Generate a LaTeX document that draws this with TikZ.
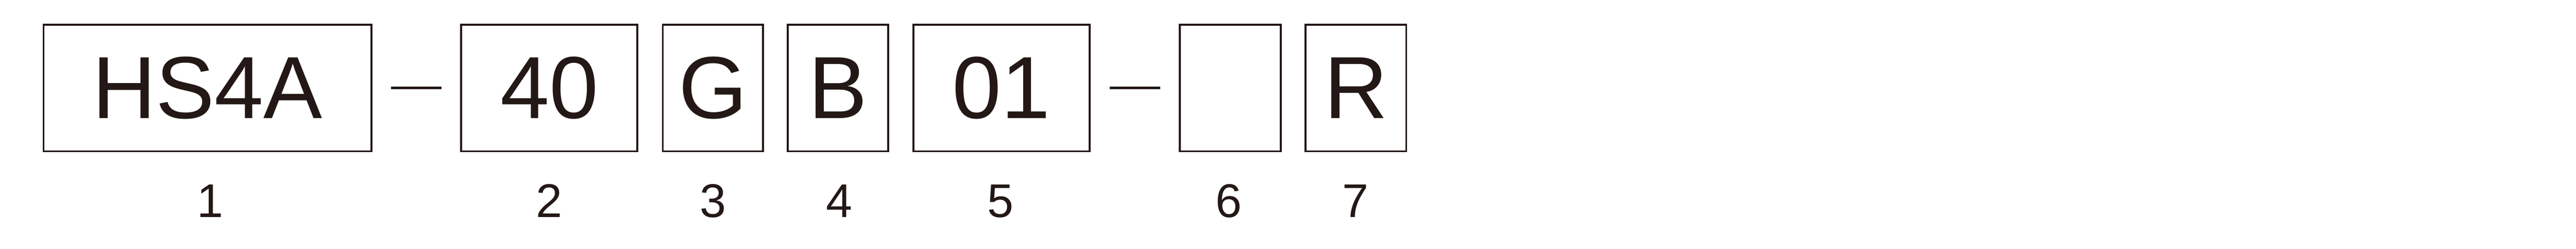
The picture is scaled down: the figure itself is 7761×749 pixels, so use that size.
\documentclass[tikz,border=0pt]{standalone}
\usepackage{fontspec}
\setmainfont{Liberation Sans}
\usetikzlibrary{calc}
\definecolor{ink}{HTML}{231815}
\begin{document}
\begin{tikzpicture}[x=0.01cm,y=-0.01cm]
\tikzset{
  codebox/.style={draw=ink, line width=0.06cm, minimum height=3.81cm, inner sep=0pt,
    text=ink, font=\fontsize{75.5}{80}\selectfont},
  numlabel/.style={text=ink, inner sep=0pt, font=\fontsize{40.5}{44}\selectfont},
  dashline/.style={draw=ink, line width=0.07cm}
}
\useasboundingbox (0,0) rectangle (7761,749);
\fill[white] (0,0) rectangle (7761,749);
\node[codebox, minimum width=9.87cm] (b1) at (625,265) {HS4A};
\node[codebox, minimum width=5.30cm] (b2) at (1655,265) {40};
\node[codebox, minimum width=3.02cm] (b3) at (2148,265) {G};
\node[codebox, minimum width=3.02cm] (b4) at (2525,265) {B};
\node[codebox, minimum width=5.31cm] (b5) at (3017,265) {01};
\node[codebox, minimum width=3.04cm] (b6) at (3706,265) {};
\node[codebox, minimum width=3.03cm] (b7) at (4085,265) {R};
\draw[dashline] ($(b1.east)+(57,0)$) -- ($(b2.west)+(-56,0)$);
\draw[dashline] ($(b5.east)+(57,0)$) -- ($(b6.west)+(-56,0)$);
\node[numlabel, anchor=base] (n1) at (633,655) {1};
\node[numlabel, anchor=base] (n2) at (1655,655) {2};
\node[numlabel, anchor=base] (n3) at (2148,655) {3};
\node[numlabel, anchor=base] (n4) at (2528,655) {4};
\node[numlabel, anchor=base] (n5) at (3015,655) {5};
\node[numlabel, anchor=base] (n6) at (3702,655) {6};
\node[numlabel, anchor=base] (n7) at (4084,655) {7};
\end{tikzpicture}
\end{document}
